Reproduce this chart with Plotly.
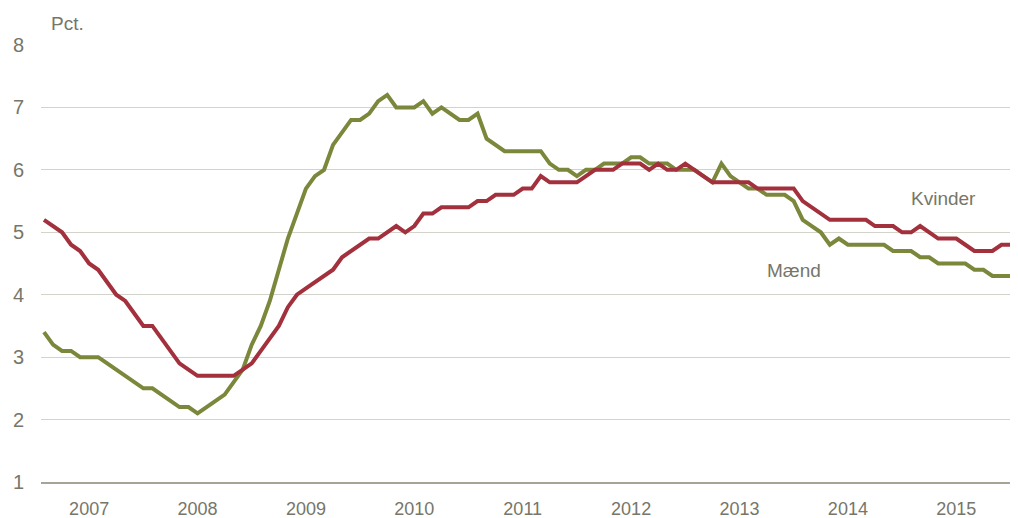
import plotly.graph_objects as go

# Monthly data, Jan 2007 - Dec 2015 (index 0..107)
months = list(range(108))

kvinder = [5.2, 5.1, 5.0, 4.8, 4.7, 4.5, 4.4, 4.2, 4.0, 3.9, 3.7, 3.5, 3.5, 3.3, 3.1, 2.9, 2.8, 2.7, 2.7, 2.7,
           2.7, 2.7, 2.8, 2.9, 3.1, 3.3, 3.5, 3.8,
           4.0, 4.1, 4.2, 4.3, 4.4, 4.6, 4.7, 4.8, 4.9, 4.9, 5.0, 5.1, 5.0, 5.1, 5.3, 5.3, 5.4, 5.4, 5.4, 5.4,
           5.5, 5.5, 5.6, 5.6, 5.6, 5.7, 5.7,
           5.9, 5.8, 5.8, 5.8, 5.8, 5.9, 6.0, 6.0, 6.0, 6.1, 6.1, 6.1, 6.0, 6.1, 6.0, 6.0, 6.1, 6.0, 5.9, 5.8,
           5.8, 5.8, 5.8, 5.8, 5.7,
           5.7, 5.7, 5.7, 5.7, 5.5, 5.4, 5.3, 5.2, 5.2, 5.2, 5.2, 5.2, 5.1, 5.1, 5.1, 5.0, 5.0, 5.1, 5.0, 4.9,
           4.9, 4.9, 4.8, 4.7, 4.7, 4.7, 4.8, 4.8]

maend = [3.4, 3.2, 3.1, 3.1, 3.0, 3.0, 3.0, 2.9, 2.8, 2.7, 2.6, 2.5, 2.5, 2.4, 2.3, 2.2, 2.2, 2.1, 2.2, 2.3,
         2.4, 2.6, 2.8, 3.2, 3.5, 3.9, 4.4, 4.9,
         5.3, 5.7, 5.9, 6.0, 6.4, 6.6, 6.8, 6.8, 6.9, 7.1, 7.2, 7.0, 7.0, 7.0, 7.1, 6.9, 7.0, 6.9, 6.8, 6.8,
         6.9, 6.5, 6.4, 6.3, 6.3, 6.3, 6.3,
         6.3, 6.1, 6.0, 6.0, 5.9, 6.0, 6.0, 6.1, 6.1, 6.1, 6.2, 6.2, 6.1, 6.1, 6.1, 6.0, 6.0, 6.0, 5.9, 5.8,
         6.1, 5.9, 5.8, 5.7, 5.7,
         5.6, 5.6, 5.6, 5.5, 5.2, 5.1, 5.0, 4.8, 4.9, 4.8, 4.8, 4.8, 4.8, 4.8, 4.7, 4.7, 4.7, 4.6, 4.6, 4.5,
         4.5, 4.5, 4.5, 4.4, 4.4, 4.3, 4.3, 4.3]

year_labels = ["2007", "2008", "2009", "2010", "2011", "2012", "2013", "2014", "2015"]
year_ticks = [5 + 12 * k for k in range(len(year_labels))]
y_ticks = [1, 2, 3, 4, 5, 6, 7, 8]

GREEN = "#7B873A"
RED = "#A3303D"
TXT = "#76766A"
FONT = "Liberation Sans, Arial, sans-serif"

fig = go.Figure()
fig.add_trace(go.Scatter(x=months, y=maend, mode="lines", name="Mænd",
                         line=dict(color=GREEN, width=4)))
fig.add_trace(go.Scatter(x=months, y=kvinder, mode="lines", name="Kvinder",
                         line=dict(color=RED, width=4)))

fig.update_layout(
    width=1018, height=518,
    margin=dict(l=33, r=11, t=37, b=44),
    paper_bgcolor="white", plot_bgcolor="white",
    showlegend=False,
    font=dict(family=FONT, color=TXT, size=17),
    xaxis=dict(range=[-0.33, 107.5], tickvals=year_ticks, ticktext=year_labels, automargin=False,
               showgrid=False, zeroline=False, showline=True, linecolor="#A5A496", linewidth=1.5,
               ticks="", tickfont=dict(size=18, color=TXT), ticklabelstandoff=10),
    yaxis=dict(range=[1, 8], tickvals=y_ticks, showgrid=True, gridcolor="#D3D3CA", gridwidth=1.2,
               automargin=False,
               zeroline=False, showline=False, ticks="", tickfont=dict(size=20, color=TXT),
               ticklabelstandoff=16),
    annotations=[
        dict(text="Pct.", xref="paper", yref="paper", x=0.0277, y=1.050, showarrow=False,
             xanchor="center", yanchor="middle", font=dict(size=19, color=TXT)),
        dict(text="Kvinder", xref="paper", yref="paper", x=(943 - 41) / 974, y=(482 - 198) / 437,
             showarrow=False, xanchor="center", yanchor="middle", font=dict(size=19, color=TXT)),
        dict(text="Mænd", xref="paper", yref="paper", x=(793.5 - 41) / 974, y=(482 - 270) / 437,
             showarrow=False, xanchor="center", yanchor="middle", font=dict(size=19, color=TXT)),
    ],
)

fig.write_html("out.html")
